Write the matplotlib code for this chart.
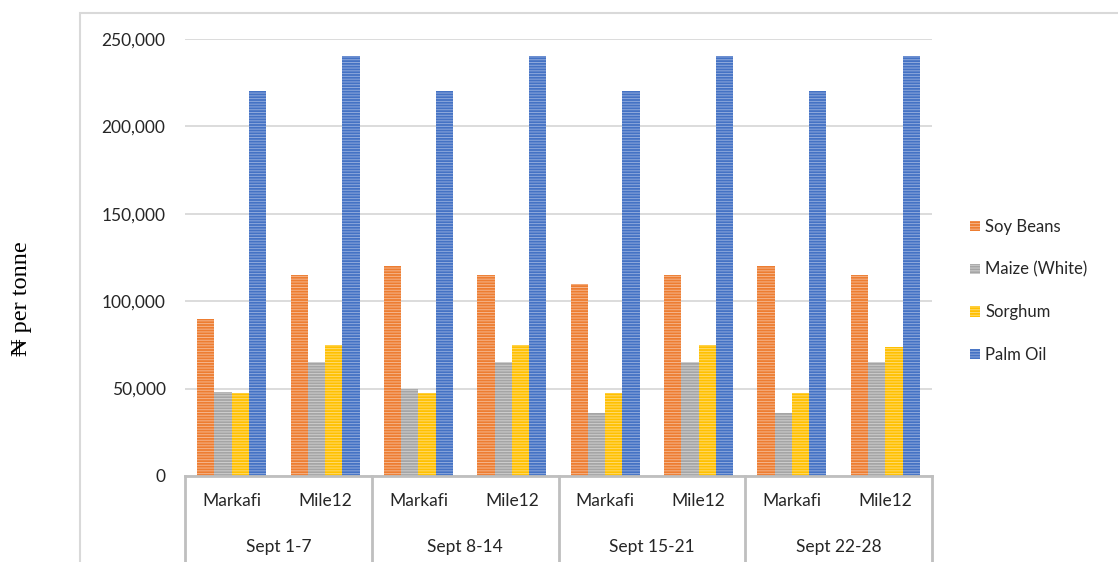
import numpy as np
import matplotlib.pyplot as plt
from matplotlib.patches import Patch, Rectangle
from matplotlib.lines import Line2D

# data
weeks = ["Sept 1-7", "Sept 8-14", "Sept 15-21", "Sept 22-28"]
markets = ["Markafi", "Mile12"]
series = ["Soy Beans", "Maize (White)", "Sorghum", "Palm Oil"]
soy = [90000, 115000, 120000, 115000, 110000, 115000, 120000, 115000]
maize = [48000, 65000, 50000, 65000, 36000, 65000, 36000, 65000]
sorghum = [47500, 75000, 47500, 75000, 47500, 75000, 47500, 74000]
palm = [220000, 240000, 220000, 240000, 220000, 240000, 220000, 240000]
yticks = [0, 50000, 100000, 150000, 200000, 250000]

colors = ["#ED7D31", "#A5A5A5", "#FFC000", "#4472C4"]
stripes = ["#F6B58C", "#CFCFCF", "#FFDB70", "#8FA9DC"]

plt.rcParams["font.family"] = ["Lato", "DejaVu Sans"]
plt.rcParams["hatch.linewidth"] = 0.7
fs = 12.5

fig = plt.figure(figsize=(11.18, 5.62), dpi=100)
ax = fig.add_axes([185 / 1118, 86 / 562, 747 / 1118, 437 / 562])

x = np.arange(len(soy))
w = 0.185
for k, vals in enumerate([soy, maize, sorghum, palm]):
    ax.bar(x + (k - 1.5) * w, vals, w, color=colors[k], edgecolor=stripes[k],
           linewidth=0, hatch="------", zorder=2)

ax.set_xlim(-0.5, len(soy) - 0.5)
ax.set_ylim(0, 250000)
ax.set_yticks(yticks)
ax.set_yticklabels([f"{v:,}" for v in yticks], fontsize=fs, color="#262626")
ax.tick_params(axis="y", length=0, pad=14)
ax.set_xticks([])
ax.grid(axis="y", color="#D9D9D9", linewidth=1.3, zorder=0)
for s in ax.spines.values():
    s.set_visible(False)

# multi-level category axis
tr = ax.get_xaxis_transform()
ax.add_line(Line2D([-0.5, len(soy) - 0.5], [0, 0], transform=tr, color="#BFBFBF",
                   lw=2, clip_on=False, zorder=3))
for b in np.arange(-0.5, len(soy), 2):
    ax.add_line(Line2D([b, b], [0, -0.25], transform=tr, color="#BFBFBF",
                       lw=2, clip_on=False))
for i in range(len(soy)):
    ax.text(i, -25 / 437, markets[i % 2], transform=tr, ha="center", va="center",
            fontsize=fs, color="#262626")
for j, wk in enumerate(weeks):
    ax.text(2 * j + 0.5, -71 / 437, wk, transform=tr, ha="center", va="center",
            fontsize=fs, color="#262626")

handles = [Patch(facecolor=colors[k], edgecolor=stripes[k], linewidth=0, hatch="------")
           for k in range(4)]
fig.legend(handles, series, loc="center left", bbox_to_anchor=(955 / 1118, 1 - 291 / 562),
           frameon=False, fontsize=12, labelcolor="#262626", handlelength=0.6,
           handleheight=0.6, handletextpad=0.3, labelspacing=1.6)

# chart border
fig.add_artist(Rectangle((80 / 1118, -0.1), 1.0, 1 - 13 / 562 + 0.1,
                         transform=fig.transFigure, fill=False,
                         edgecolor="#D9D9D9", lw=1.5))

fig.text(22 / 1118, 1 - 299 / 562, "\u20a6 per tonne", rotation=90, ha="center",
         va="center", fontsize=17.5, family=["Liberation Serif", "DejaVu Serif"])

fig.savefig("out.png", dpi=100)
